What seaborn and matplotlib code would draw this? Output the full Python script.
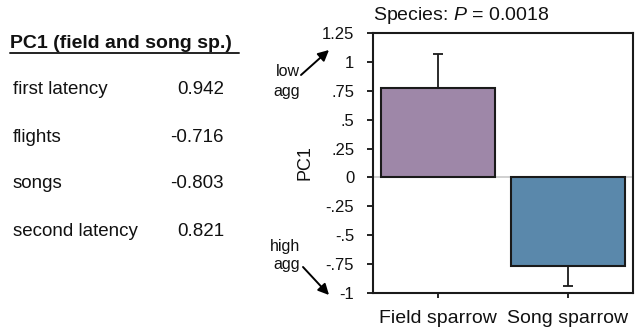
import matplotlib
matplotlib.use("Agg")
import matplotlib.pyplot as plt
import seaborn as sns
import pandas as pd
from matplotlib.lines import Line2D

# ---- data ----
species = ["Field sparrow", "Song sparrow"]
pc1_means = [0.77, -0.765]
err_up = [0.30, 0.0]
err_down = [0.0, 0.175]
bar_colors = ["#9E87A8", "#5A88AB"]

ytick_values = [1.25, 1, 0.75, 0.5, 0.25, 0, -0.25, -0.5, -0.75, -1]
ytick_labels = ["1.25", "1", ".75", ".5", ".25", "0", "-.25", "-.5", "-.75", "-1"]

loading_vars = ["first latency", "flights", "songs", "second latency"]
loading_vals = ["0.942", "-0.716", "-0.803", "0.821"]

sns.set_style("ticks")
plt.rcParams["font.family"] = ["Liberation Sans", "DejaVu Sans"]
plt.rcParams["mathtext.fontset"] = "custom"
plt.rcParams["mathtext.rm"] = "Liberation Sans"
plt.rcParams["mathtext.it"] = "Liberation Sans:italic"
plt.rcParams["text.color"] = "#111111"
plt.rcParams["axes.labelcolor"] = "#111111"
plt.rcParams["xtick.color"] = "#111111"
plt.rcParams["ytick.color"] = "#111111"

W, H = 642, 327
fig = plt.figure(figsize=(W / 100, H / 100), dpi=100)

def fx(px):
    return px / W

def fy(py):
    return 1 - py / H

ax = fig.add_axes([fx(373), fy(293), fx(633) - fx(373), fy(33) - fy(293)])

df = pd.DataFrame({"species": species, "PC1": pc1_means})
sns.barplot(data=df, x="species", y="PC1", hue="species", palette=bar_colors,
            saturation=1, width=0.88, edgecolor="#1a1a1a", linewidth=1.5,
            legend=False, ax=ax, zorder=2)
ax.errorbar(x=range(len(species)), y=pc1_means, yerr=[err_down, err_up],
            fmt="none", ecolor="#1a1a1a", elinewidth=1.3, capsize=3.5,
            capthick=1.3, zorder=1)
ax.axhline(0, color="#c8c8c8", lw=1.2, zorder=0)

ax.set_xlim(-0.5, 1.5)
ax.set_ylim(-1, 1.25)
ax.set_yticks(ytick_values)
ax.set_yticklabels(ytick_labels, fontsize=12)
ax.set_xticks(range(len(species)))
ax.set_xticklabels(species, fontsize=14)
ax.tick_params(axis="y", direction="out", length=4.5, width=1.3, pad=9)
ax.tick_params(axis="x", direction="out", length=3.5, width=1.3, pad=9)
ax.set_xlabel("")
ax.set_ylabel("PC1", fontsize=13, labelpad=6)
for s in ax.spines.values():
    s.set_visible(True)
    s.set_linewidth(1.5)
    s.set_color("#1a1a1a")

ax.text(0.0, 1.025, "Species: $\\it{P}$ = 0.0018", transform=ax.transAxes,
        fontsize=14, ha="left", va="bottom")

# ---- left table ----
fig.text(fx(10), fy(43), "PC1 (field and song sp.)", fontsize=14,
         fontweight="bold", ha="left", va="center")
fig.add_artist(Line2D([fx(10), fx(239)], [fy(53), fy(53)], color="#222222",
                      lw=1.4, transform=fig.transFigure))
row_y = [89, 137, 184, 231]
for name, val, yy in zip(loading_vars, loading_vals, row_y):
    fig.text(fx(13), fy(yy), name, fontsize=13.5, ha="left", va="center")
    fig.text(fx(224), fy(yy), val, fontsize=13.5, ha="right", va="center")

# ---- aggression annotations ----
fig.text(fx(288), fy(72), "low", fontsize=11.5, ha="center", va="center")
fig.text(fx(287), fy(92), "agg", fontsize=11.5, ha="center", va="center")
fig.text(fx(285), fy(247), "high", fontsize=11.5, ha="center", va="center")
fig.text(fx(287), fy(265), "agg", fontsize=11.5, ha="center", va="center")
arrow_kw = dict(arrowstyle="-|>", color="black", lw=1.4, mutation_scale=16,
                shrinkA=0, shrinkB=0)
fig.add_artist(matplotlib.patches.FancyArrowPatch(
    (fx(301), fy(75)), (fx(329), fy(50)), transform=fig.transFigure, **arrow_kw))
fig.add_artist(matplotlib.patches.FancyArrowPatch(
    (fx(303), fy(267)), (fx(329), fy(295)), transform=fig.transFigure, **arrow_kw))

fig.savefig("out.png", dpi=100)
